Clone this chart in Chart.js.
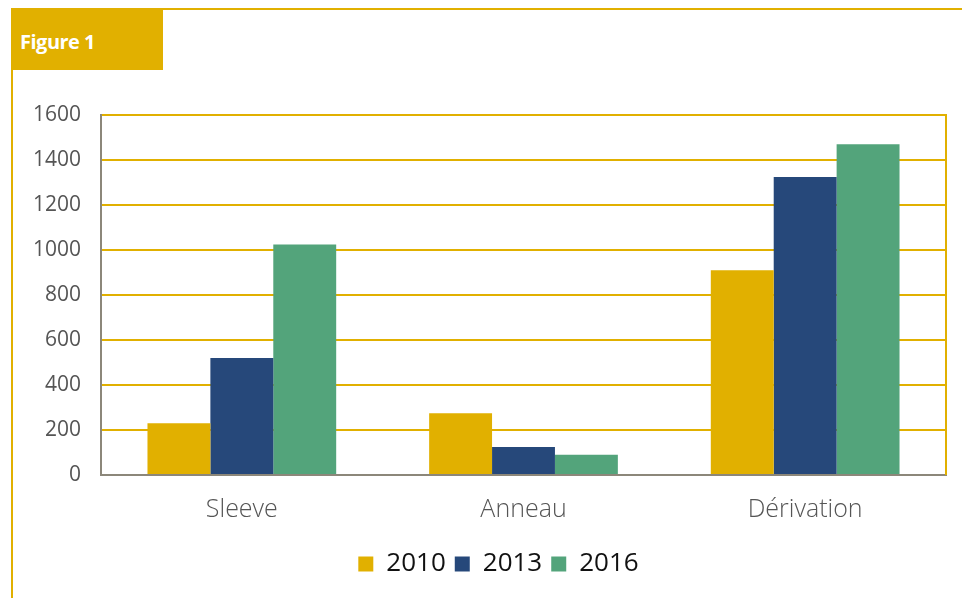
<!DOCTYPE html>
<html>
<head>
<meta charset="utf-8">
<script src="https://cdn.jsdelivr.net/npm/chart.js@4.4.1/dist/chart.umd.min.js"></script>
<style>
  html, body { margin: 0; padding: 0; background: #fff; }
  body { width: 962px; height: 598px; position: relative; overflow: hidden; font-family: "Open Sans", sans-serif; }
  .frame { position: absolute; left: 11px; top: 8px; right: 0; bottom: 0; border-top: 2px solid #E1B000; border-left: 2px solid #E1B000; }
  .tag { position: absolute; left: 11px; top: 8px; width: 152px; height: 62px; background: #E1B000; color: #fff; font-weight: 700; font-size: 20px; line-height: 62px; padding: 3px 0 0 9px; box-sizing: border-box; letter-spacing: -0.5px; }
  #wrap { position: absolute; left: 0; top: 0; width: 962px; height: 598px; }
</style>
</head>
<body>
<div class="frame"></div>
<div class="tag">Figure 1</div>
<div id="wrap"><canvas id="c" width="962" height="598"></canvas></div>
<script>
// data
const categories = ["Sleeve", "Anneau", "Dérivation"];
const years = ["2010", "2013", "2016"];
const values2010 = [230, 275, 910];
const values2013 = [520, 125, 1325];
const values2016 = [1025, 90, 1470];
const colors = ["#E1B000", "#26487A", "#53A47B"];

const gold = "#E1B000";
const axisGray = "#8C877A";

// right edge of the plot is a gold line
const rightBorder = {
  id: "rightBorder",
  afterDraw(chart) {
    const { ctx, chartArea } = chart;
    ctx.save();
    ctx.strokeStyle = gold;
    ctx.lineWidth = 2;
    ctx.beginPath();
    ctx.moveTo(chartArea.right, chartArea.top - 1);
    ctx.lineTo(chartArea.right, chartArea.bottom);
    ctx.stroke();
    ctx.restore();
  }
};

const series = [values2010, values2013, values2016];

new Chart(document.getElementById("c"), {
  type: "bar",
  data: {
    labels: categories,
    datasets: series.map((vals, i) => ({
      label: years[i],
      data: vals,
      backgroundColor: colors[i],
      borderWidth: 0,
      categoryPercentage: 0.67,
      barPercentage: 1.0
    }))
  },
  options: {
    responsive: false,
    animation: false,
    // left padding shifts the legend centre under the plot like the original
    layout: { padding: { left: 51, right: 16, top: 115, bottom: 11 } },
    plugins: {
      tooltip: { enabled: false },
      legend: {
        position: "bottom",
        labels: {
          color: "#111",
          font: { family: "Open Sans", size: 26 },
          boxWidth: 15,
          boxHeight: 15,
          padding: 9
        }
      }
    },
    scales: {
      x: {
        grid: { display: false, drawTicks: false },
        border: { color: axisGray, width: 2 },
        ticks: { color: "#555", font: { family: "Open Sans", size: 25, weight: 300 }, padding: 20 },
        afterFit(scale) { scale.height = 67; }
      },
      y: {
        min: 0,
        max: 1600,
        ticks: {
          stepSize: 200,
          color: "#555",
          font: { family: "Open Sans", size: 21 },
          // mirrored so the labels are not clipped to the narrow axis box
          mirror: true,
          crossAlign: "far",
          padding: -68,
          callback: v => String(v)
        },
        grid: {
          drawTicks: false,
          color: ctx => ctx.tick && ctx.tick.value === 0 ? axisGray : gold,
          lineWidth: 2
        },
        border: { color: axisGray, width: 2 },
        afterFit(scale) { scale.width = 50; }
      }
    }
  },
  plugins: [rightBorder]
});
</script>
</body>
</html>
